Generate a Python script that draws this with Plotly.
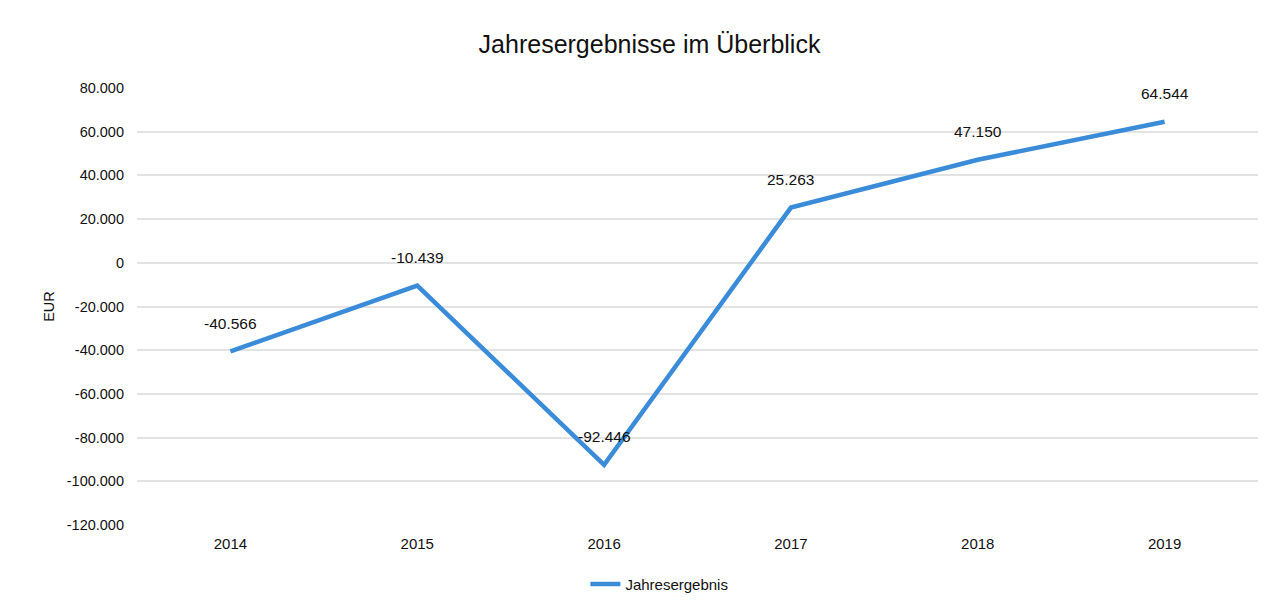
import plotly.graph_objects as go

years = ["2014", "2015", "2016", "2017", "2018", "2019"]
ergebnis = [-40566, -10439, -92446, 25263, 47150, 64544]
tick_vals = [80000, 60000, 40000, 20000, 0, -20000, -40000, -60000, -80000, -100000, -120000]
tick_text = ["80.000", "60.000", "40.000", "20.000", "0", "-20.000", "-40.000", "-60.000",
             "-80.000", "-100.000", "-120.000"]
labels = ["-40.566", "-10.439", "-92.446", "25.263", "47.150", "64.544"]

font = "Liberation Sans, Arial, sans-serif"

fig = go.Figure()
fig.add_trace(go.Scatter(
    x=years, y=ergebnis, mode="lines", name="Jahresergebnis",
    line=dict(color="#3b8cd8", width=4.5),
))

for i, (y, t) in enumerate(zip(ergebnis, labels)):
    fig.add_annotation(x=i, y=y, xref="x", yref="y", text=t, showarrow=False, yshift=28,
                       font=dict(family=font, size=15.5, color="#111111"))

fig.update_layout(
    width=1283, height=612,
    paper_bgcolor="white", plot_bgcolor="white",
    margin=dict(l=129, r=33, t=80, b=95, autoexpand=False),
    title=dict(text="Jahresergebnisse im Überblick", x=0.5, xanchor="center",
               y=0.941, yanchor="middle",
               font=dict(family=font, size=25, color="#111111")),
    font=dict(family=font, size=14, color="#111111"),
    showlegend=True,
    legend=dict(orientation="h", x=0.466, xanchor="center", y=-0.098, yanchor="top",
                font=dict(family=font, size=15, color="#111111")),
    xaxis=dict(type="category", range=[-0.5, 5.5], showgrid=False, showline=False,
               ticks="", tickfont=dict(size=15), ticklabelstandoff=8),
    yaxis=dict(range=[-120000, 80000], tickvals=tick_vals, ticktext=tick_text,
               showgrid=True, gridcolor="#e3e3e3", gridwidth=1.5, zeroline=False,
               showline=False, ticks="", ticklabelstandoff=12,
               tickfont=dict(size=14.5),
               title=dict(text="EUR", font=dict(size=14.5), standoff=8)),
)

fig.write_html("out.html")
